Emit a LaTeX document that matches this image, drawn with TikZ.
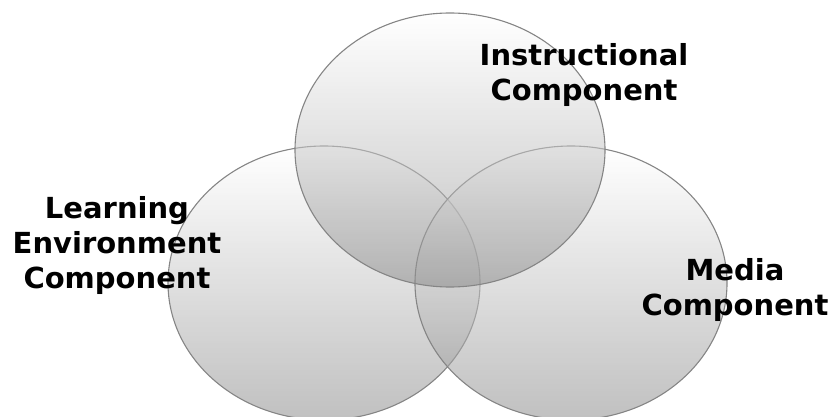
\documentclass[tikz,border=0pt]{standalone}
\usepackage{fontspec}
\setmainfont{DejaVu Sans}
\usetikzlibrary{shapes.geometric}
\begin{document}
\begin{tikzpicture}[x=1pt,y=-1pt,
  venn/.style={draw=black!48, line width=1.1pt, fill opacity=0.55,
    top color=white, bottom color=black!45, shading angle=0},
  lbl/.style={font=\fontsize{29}{35}\selectfont\bfseries, align=center, inner sep=0pt, text=black}]
\useasboundingbox (0,0) rectangle (832,417);
\path[venn] (324,283) ellipse [x radius=156, y radius=137];
\path[venn] (571,283) ellipse [x radius=156, y radius=137];
\path[venn] (450,150) ellipse [x radius=155, y radius=137];
\node[lbl] (instr) at (584,75) {Instructional\\Component};
\node[lbl] (learn) at (117,245) {Learning\\Environment\\Component};
\node[lbl] (media) at (735,290) {Media\\Component};
\end{tikzpicture}
\end{document}
